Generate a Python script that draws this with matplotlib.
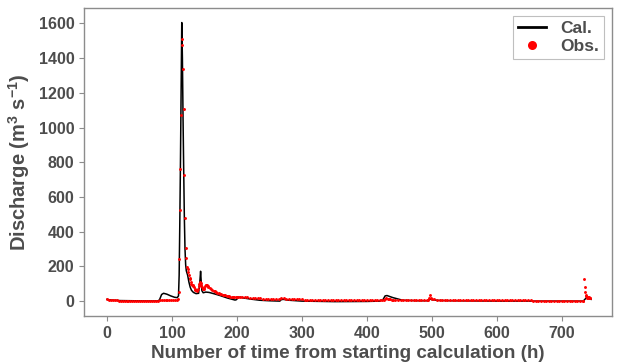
import numpy as np
import matplotlib.pyplot as plt
from matplotlib.lines import Line2D

plt.rcParams.update({
    "font.family": "Liberation Sans",
    "font.weight": "bold",
    "mathtext.fontset": "custom",
    "mathtext.rm": "Liberation Sans:bold",
    "mathtext.bf": "Liberation Sans:bold",
    "mathtext.it": "Liberation Sans:bold",
})

TXT = "#4D4D4D"

# ── Calculated discharge (breakpoints) ────────────────────────────────────────
cal_h = [0, 3, 10, 20, 40, 60, 79, 81, 84, 87, 92, 98, 104, 108, 110, 111, 112,
         113, 114, 115, 116, 117, 118, 119, 120, 121, 122, 124, 126, 128, 130,
         133, 137, 141, 143, 144, 145, 146, 148, 152, 157, 165, 174, 185, 197,
         199, 202, 205, 210, 220, 235, 250, 266, 268, 271, 280, 300, 350, 400,
         420, 425, 428, 431, 440, 455, 480, 495, 497, 500, 510, 530, 600, 700,
         733, 735, 738, 741, 743, 745]
cal_q = [10, 8, 5, 3, 2, 1, 1, 10, 38, 45, 40, 30, 22, 20, 30, 150, 450,
         800, 1200, 1605, 1400, 1050, 750, 480, 300, 210, 175, 150, 110, 80, 62,
         50, 43, 45, 120, 172, 110, 60, 48, 52, 50, 42, 32, 18, 6,
         8, 20, 23, 18, 12, 5, 2, 0, 8, 10, 5, 0, -3, -2,
         0, 10, 30, 32, 20, 5, 2, 2, 12, 8, 4, 2, 0, 0,
         0, 8, 20, 15, 12, 10]

# ── Observed discharge (sampled points) ───────────────────────────────────────
obs_h_seg = [
    np.arange(0, 109, 3),
    np.arange(109, 157, 1),
    np.arange(158, 205, 2),
    np.arange(208, 425, 4),
    np.arange(426, 441, 2),
    np.arange(444, 493, 4),
    np.array([494, 496, 497, 498, 500]),
    np.arange(504, 733, 4),
    np.arange(733, 745, 1),
]
obs_q_seg = [
    [10, 9, 7, 6, 5, 4, 3, 3] + [2] * 19 + [4, 8, 9, 8, 6, 5, 5, 4, 4, 5],
    [10, 50, 240, 525, 760, 1075, 1478, 1512, 1340, 1106,
     726, 480, 305, 246, 196, 185, 170, 150, 135, 125,
     111, 100, 90, 85, 92, 80, 70, 65, 62, 60,
     63, 70, 85, 100, 108, 105, 95, 80, 72, 70,
     72, 78, 85, 92, 93, 90, 85, 80],
    [74, 69, 65, 60, 56, 52, 48, 45, 42, 40,
     37, 35, 33, 31, 29, 28, 26, 25, 24, 23,
     22, 24, 26, 25],
    [24, 22, 21, 20, 18, 17, 16, 15, 14, 14, 13, 12, 12, 11, 11, 16, 15, 13,
     12, 11, 11, 10, 10, 10, 9, 9, 9, 8, 8, 8, 8, 7, 7, 7, 7, 7, 6, 6, 6, 6,
     6, 6, 5, 5, 5, 5, 5, 5, 5, 5, 5, 5, 5, 5, 5],
    [8, 14, 15, 13, 11, 10, 9, 8],
    [8, 8, 7, 7, 7, 7, 6, 6, 6, 6, 6, 6, 6],
    [7, 20, 35, 18, 12],
    [10, 9, 8, 8, 7, 7, 8, 7, 6, 6,
     6, 6, 6, 5, 5, 5, 5, 5, 5, 5, 5, 5, 4, 4, 4, 4, 4, 4, 4, 4,
     4, 4, 4, 4, 4, 4, 4, 4, 3, 3, 3, 3, 3, 3, 3, 3, 3, 3, 3, 3,
     3, 3, 3, 3, 3, 3, 3, 3],
    [3, 127, 83, 54, 38, 29, 17, 20, 24, 22, 18, 15],
]
obs_h = np.concatenate(obs_h_seg)
obs_q = np.concatenate([np.asarray(v, float) for v in obs_q_seg])

x_ticks = [0, 100, 200, 300, 400, 500, 600, 700]
y_ticks = [0, 200, 400, 600, 800, 1000, 1200, 1400, 1600]

# ── Figure ────────────────────────────────────────────────────────────────────
fig = plt.figure(figsize=(6.18, 3.62), dpi=100)
ax = fig.add_axes([0.136, 0.127, 0.854, 0.851])

ax.plot(cal_h, cal_q, color="black", lw=1.1, zorder=2)
ax.plot(obs_h, obs_q, ls="none", marker="o", ms=2.1, mew=0,
        color="red", zorder=3)

ax.set_xlim(-35.4, 777)
ax.set_ylim(-86, 1689)
ax.set_xticks(x_ticks)
ax.set_yticks(y_ticks)

for s in ax.spines.values():
    s.set_color("#8c8c8c")
    s.set_linewidth(1.0)
ax.tick_params(axis="both", colors="#8c8c8c", length=3.5, width=0.8,
               labelcolor=TXT, labelsize=11.5)
for lab in ax.get_xticklabels() + ax.get_yticklabels():
    lab.set_fontweight("bold")

ax.set_xlabel("Number of time from starting calculation (h)", fontsize=13.6,
              fontweight="bold", color=TXT, labelpad=3)
ax.set_ylabel("Discharge (m$^{3}$ s$^{-1}$)", fontsize=14.5,
              fontweight="bold", color=TXT, labelpad=5)

handles = [
    Line2D([0], [0], color="black", lw=2),
    Line2D([0], [0], ls="none", marker="o", ms=6.5, color="red", mew=0),
]
leg = ax.legend(handles, ["Cal.", "Obs."], loc="upper right",
                fancybox=False, edgecolor="#bfbfbf", framealpha=1,
                prop={"weight": "bold", "size": 12.5}, labelcolor=TXT,
                handlelength=1.6, handletextpad=0.8, borderpad=0.3,
                labelspacing=0.15, borderaxespad=0.45)
leg.get_frame().set_linewidth(0.8)

fig.savefig("out.png", dpi=100, facecolor="white")
